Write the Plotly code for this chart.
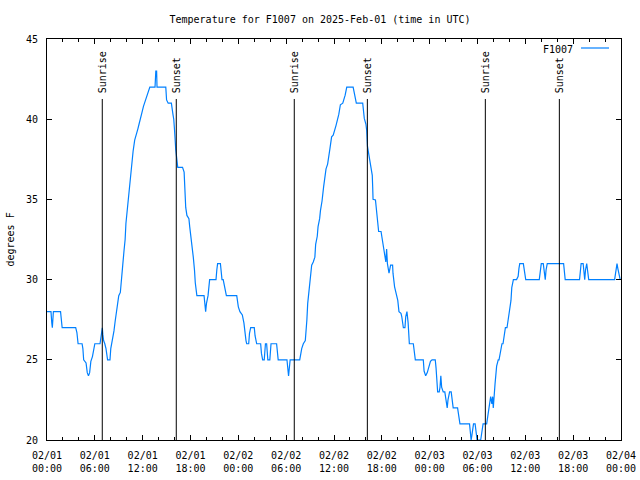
import pandas as pd
import plotly.graph_objects as go

# ---------------- data ----------------
start_time = "2025-02-01 00:00"
series_name = "F1007"

# hours since 2025-02-01 00:00 UTC
hours = [0.0, 0.5, 0.6, 0.67, 0.8, 1.7, 1.9, 3.6, 3.75, 3.9, 4.4, 4.5, 4.6, 4.9, 5.05, 5.2, 5.35, 5.5, 5.7, 5.85,
         6.0, 6.65, 6.75, 6.85, 6.94, 7.0, 7.1, 7.25, 7.4, 7.6, 7.9, 8.0, 8.2, 8.4, 8.55, 8.7, 8.85, 9.0, 9.2, 9.28,
         9.5, 9.66, 9.8, 9.9, 10.03, 10.16, 10.3, 10.5, 10.66, 10.8, 11.0, 11.2, 11.4, 11.55, 11.67, 11.9, 12.1, 12.3, 12.6, 12.9,
         13.55, 13.65, 13.75, 13.8, 14.9, 15.0, 15.2, 15.6, 15.8, 15.9, 16.0, 16.15, 16.4, 17.0, 17.2, 17.3, 17.4, 17.55, 17.8, 17.9,
         18.06, 18.2, 18.35, 18.5, 18.6, 18.8, 19.7, 19.8, 19.9, 20.0, 20.2, 20.4, 21.2, 21.3, 21.4, 21.75, 21.85, 21.95, 22.1, 22.3,
         22.5, 23.8, 24.0, 24.2, 24.5, 24.7, 24.8, 24.96, 25.05, 25.3, 25.4, 25.55, 26.0, 26.1, 26.3, 26.8, 26.9, 27.05, 27.25, 27.4,
         27.55, 27.7, 27.95, 28.1, 28.8, 29.0, 30.1, 30.2, 30.3, 30.5, 31.7, 31.95, 32.15, 32.4, 32.5, 32.6, 32.7, 32.8, 32.9, 33.1,
         33.2, 33.4, 33.6, 33.7, 33.9, 34.0, 34.2, 34.3, 34.5, 34.7, 34.8, 35.0, 35.2, 35.3, 35.5, 35.7, 35.9, 36.25, 36.5, 36.6,
         36.8, 37.1, 37.4, 37.6, 38.4, 38.6, 38.8, 39.6, 39.8, 40.0, 40.1, 40.2, 40.4, 40.6, 40.8, 40.85, 40.9, 41.2, 41.35, 41.5,
         41.6, 41.9, 42.0, 42.2, 42.4, 42.5, 42.6, 42.7, 42.9, 43.1, 43.35, 43.4, 43.6, 43.9, 44.0, 44.15, 44.4, 44.5, 44.7, 44.9,
         45.0, 45.15, 45.3, 45.45, 45.95, 46.2, 47.2, 47.3, 47.5, 47.7, 47.9, 48.1, 48.3, 48.7, 48.8, 48.9, 49.0, 49.2, 49.3, 49.4,
         49.5, 49.7, 49.9, 50.05, 50.2, 50.3, 50.5, 50.7, 50.8, 50.95, 51.5, 51.7, 51.8, 53.0, 53.1, 53.2, 53.3, 53.5, 53.7, 53.8,
         53.95, 54.4, 54.6, 54.7, 55.15, 55.3, 55.4, 55.5, 55.65, 55.8, 55.9, 55.98, 56.1, 56.2, 56.4, 56.6, 56.7, 56.9, 57.07, 57.2,
         57.35, 57.5, 57.7, 57.9, 58.0, 58.2, 58.3, 58.5, 58.9, 59.1, 59.2, 59.3, 59.75, 59.85, 60.05, 61.75, 61.9, 62.0, 62.25, 62.4,
         62.5, 62.6, 62.75, 64.8, 64.95, 65.0, 66.8, 66.9, 67.0, 67.25, 67.4, 67.45, 67.55, 67.7, 67.8, 67.95, 71.2, 71.3, 71.5, 71.6,
         71.75, 71.9]

temps_f = [28, 28, 27.3, 27, 28, 28, 27, 27, 26.7, 26, 26, 25.7, 25, 24.8, 24.2, 24, 24.2, 24.9, 25.2, 25.7,
           26, 26, 26.4, 26.6, 27, 26.6, 26.2, 26, 25.7, 25, 25, 25.7, 26.2, 26.8, 27.4, 27.9, 28.3, 29, 29.2, 29.8,
           30.9, 31.8, 32.5, 33.5, 34.2, 34.75, 35.8, 36.7, 37.25, 38.0, 38.7, 39.0, 39.4, 39.7, 40.0, 40.4, 40.8, 41.1, 41.5, 42,
           42, 43, 43, 42, 42, 41.2, 41, 41, 40.3, 40, 39.3, 38.1, 37, 37, 36.7, 35.6, 34.5, 34.0, 33.8, 33.3,
           32.7, 32.2, 31.4, 30.6, 29.8, 29, 29, 28.5, 28, 28.5, 29, 30, 30, 30.6, 31, 31, 30.6, 30, 30, 29.5,
           29, 29, 28.3, 28.0, 27.8, 27.3, 26.75, 26.2, 26, 26, 26.65, 27, 27, 26.5, 26, 26, 25.4, 25, 25, 26,
           26, 25, 25, 26, 26, 25, 25, 24.4, 24, 25, 25, 25.7, 26, 26.2, 26.75, 27.5, 28.5, 29.0, 29.8, 30.8,
           30.9, 31.1, 31.4, 32.2, 32.7, 33.3, 33.8, 34.3, 34.9, 35.8, 36.3, 36.9, 37.2, 37.65, 38.2, 38.9, 39.0, 39.6, 40.05, 40.3,
           40.9, 41.0, 41.5, 42, 42, 41.5, 41.0, 41, 40.05, 39.7, 39.3, 38.3, 37.7, 37.25, 36.5, 35.8, 35.0, 34.96, 34.3, 33.8,
           33.0, 33.0, 32.7, 32.05, 31.4, 31.1, 31.9, 31.0, 30.4, 30.9, 30.9, 30.4, 29.55, 28.9, 28.7, 28.0, 27.9, 27.7, 27.0, 27.0,
           27.7, 28.0, 27.3, 26.0, 26, 25, 25, 24.3, 24.0, 24.2, 24.5, 24.9, 25, 25, 24.5, 23.5, 23.0, 23.0, 23.3, 24.0,
           23.3, 23.0, 23.0, 22.5, 22.0, 22.5, 23.0, 23.0, 22.5, 22.0, 22.0, 21.45, 21.0, 21, 20.3, 20, 20.3, 21, 21, 20.6,
           20, 20, 20.6, 21, 21, 21.45, 21.8, 22.25, 22.7, 22.25, 22.7, 22.0, 22.6, 23.5, 24.6, 25, 25, 25.7, 26, 26,
           26.5, 27.0, 27.0, 27.7, 28.2, 28.7, 29.5, 30, 30, 30.2, 30.7, 31, 31, 30.7, 30, 30, 30.6, 31, 31, 30.3,
           30, 30.6, 31, 31, 30.3, 30, 30, 30.6, 31, 31, 30.3, 30, 30.6, 31, 30.6, 30, 30, 30.4, 31, 30.7,
           30.3, 30]

sun_event_times = ["2025-02-01 06:56", "2025-02-01 16:13", "2025-02-02 07:01",
                   "2025-02-02 16:11", "2025-02-03 06:59", "2025-02-03 16:16"]
sun_event_labels = ["Sunrise", "Sunset", "Sunrise", "Sunset", "Sunrise", "Sunset"]
sun_line_top = 41.26

y_range = [20, 45]
x_range = ["2025-02-01 00:00", "2025-02-04 00:00"]
tick_times = list(pd.date_range("2025-02-01 00:00", "2025-02-04 00:00", freq="6h"))
tick_labels = [t.strftime("%m/%d<br>%H:%M") for t in tick_times]

title_text = "Temperature for F1007 on 2025-Feb-01 (time in UTC)"
y_title = "degrees F"

# ---------------- figure ----------------
FONT = "DejaVu Sans Mono"
BLUE = "#0080ff"
L, R, T, B = 47, 19, 39, 40
PW, PH = 640 - L - R, 480 - T - B

times = pd.Timestamp(start_time) + pd.to_timedelta(hours, unit="h")

fig = go.Figure()
fig.add_trace(go.Scatter(x=times, y=temps_f, mode="lines", name=series_name,
                         line=dict(color=BLUE, width=1.2), showlegend=False))

shapes = []
annotations = []
for t, lab in zip(sun_event_times, sun_event_labels):
    shapes.append(dict(type="line", xref="x", yref="y", x0=t, x1=t, y0=y_range[0], y1=sun_line_top,
                       line=dict(color="black", width=1)))
    annotations.append(dict(x=t, y=sun_line_top, xref="x", yref="y", text=lab, textangle=-90,
                            showarrow=False, xanchor="center", yanchor="bottom", yshift=4, xshift=1,
                            font=dict(family=FONT, size=10, color="black")))

# gnuplot-style legend: text then sample line
annotations.append(dict(x=(575 - L) / PW, y=(440 - 49) / PH, xref="paper", yref="paper", text=series_name,
                        showarrow=False, xanchor="right", yanchor="middle",
                        font=dict(family=FONT, size=10, color="black")))
shapes.append(dict(type="line", xref="paper", yref="paper", x0=(581 - L) / PW, x1=(609 - L) / PW,
                   y0=(440 - 48) / PH, y1=(440 - 48) / PH, line=dict(color=BLUE, width=1.2)))

# y-axis title (placed like gnuplot's ylabel)
annotations.append(dict(x=(10 - L) / PW, y=0.5, xref="paper", yref="paper", text=y_title, textangle=-90,
                        showarrow=False, xanchor="center", yanchor="middle",
                        font=dict(family=FONT, size=10, color="black")))

fig.update_layout(
    width=640, height=480,
    margin=dict(l=L, r=R, t=T, b=B),
    paper_bgcolor="white", plot_bgcolor="white",
    font=dict(family=FONT, size=10, color="black"),
    title=dict(text=title_text, x=0.5, xanchor="center", y=1 - 19 / 480, yanchor="middle",
               font=dict(family=FONT, size=10, color="black")),
    shapes=shapes, annotations=annotations, showlegend=False,
)
fig.update_xaxes(
    range=x_range, tickmode="array", tickvals=tick_times, ticktext=tick_labels,
    ticks="inside", ticklen=5, tickcolor="black", tickwidth=1,
    showline=True, linecolor="black", linewidth=1, mirror="allticks",
    showgrid=False, zeroline=False, ticklabelstandoff=6, automargin=False,
    minor=dict(dtick=2 * 3600 * 1000, tick0="2025-02-01", ticks="inside", ticklen=3,
               tickcolor="black", showgrid=False),
)
fig.update_yaxes(
    range=y_range, dtick=5, tick0=20,
    ticks="inside", ticklen=5, tickcolor="black", tickwidth=1,
    showline=True, linecolor="black", linewidth=1, mirror="allticks",
    showgrid=False, zeroline=False, ticklabelstandoff=6, automargin=False,
)

fig.write_html("out.html", config={"displayModeBar": False},
               post_script="document.body.style.margin='0';")
